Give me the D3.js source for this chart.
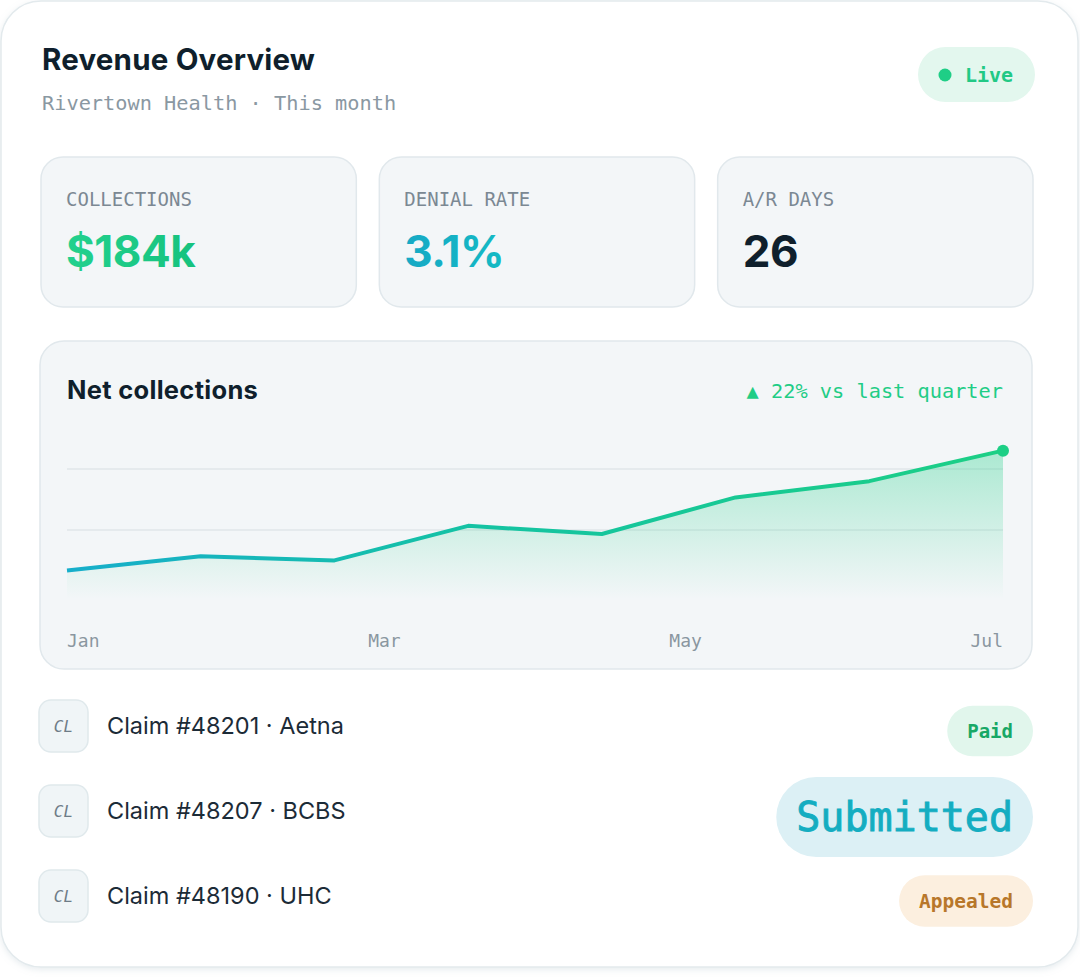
<!DOCTYPE html>
<html lang="en">
<head>
<meta charset="UTF-8">
<title>Revenue Overview</title>
<script src="https://d3js.org/d3.v7.min.js"></script>
<style>
  html, body { margin: 0; padding: 0; background: #ffffff; }
  svg { display: block; }
  .sans { font-family: Inter, "Noto Sans", sans-serif; }
  .mono { font-family: "DejaVu Sans Mono", "Liberation Mono", monospace; }
</style>
</head>
<body>
<div id="chart"></div>
<script>
// ---- data ----
const kpiLabels = ["COLLECTIONS", "DENIAL RATE", "A/R DAYS"];
const kpiValues = ["$184k", "3.1%", "26"];
const periods = [0, 1, 2, 3, 4, 5, 6, 7];
const netCollections = [100, 107, 105, 122, 118, 136, 144, 159]; // $k
const monthTicks = ["Jan", "Mar", "May", "Jul"];
const gridValues = [120, 150];
const claimIds = ["#48201", "#48207", "#48190"];
const payers = ["Aetna", "BCBS", "UHC"];
const claimStatus = ["Paid", "Submitted", "Appealed"];
const trendLabel = "\u25B2 22% vs last quarter";

// ---- styles ----
const kpiColors = ["url(#gradGreen)", "url(#gradTeal)", "#0f1f2c"];
const statusStyle = {
  Paid:      { fill: "#e1f6ec", color: "#18a866", size: 19 },
  Submitted: { fill: "#dcf0f5", color: "#14adc1", size: 40 },
  Appealed:  { fill: "#fcefdf", color: "#b8772a", size: 19.5 }
};

const width = 1080, height = 980;
const svg = d3.select("#chart").append("svg")
  .attr("width", width)
  .attr("height", height);

const defs = svg.append("defs");

const shadow = defs.append("filter").attr("id", "shadow")
  .attr("x", "-5%").attr("y", "-5%").attr("width", "110%").attr("height", "110%");
shadow.append("feDropShadow")
  .attr("dx", 0).attr("dy", 2).attr("stdDeviation", 3)
  .attr("flood-color", "#9fb3bd").attr("flood-opacity", 0.25);

function hGrad(id, stops) {
  const g = defs.append("linearGradient").attr("id", id)
    .attr("x1", "0%").attr("x2", "100%").attr("y1", "0%").attr("y2", "0%");
  stops.forEach(([o, c]) => g.append("stop").attr("offset", o).attr("stop-color", c));
}
hGrad("gradGreen", [["0%", "#22d18e"], ["100%", "#16c27e"]]);
hGrad("gradTeal", [["0%", "#17a9c5"], ["100%", "#13bac4"]]);

// outer card
svg.append("rect")
  .attr("x", 1).attr("y", 1)
  .attr("width", 1077).attr("height", 966)
  .attr("rx", 40)
  .attr("fill", "#ffffff")
  .attr("stroke", "#e3eaed")
  .attr("stroke-width", 1.5)
  .attr("filter", "url(#shadow)");

// header
svg.append("text").attr("class", "sans")
  .attr("x", 42).attr("y", 70)
  .attr("font-size", 29.5).attr("font-weight", 650)
  .attr("letter-spacing", 0.2)
  .attr("fill", "#0f1f2c")
  .text("Revenue Overview");

svg.append("text").attr("class", "mono")
  .attr("x", 42).attr("y", 110)
  .attr("font-size", 20.3)
  .attr("fill", "#8a98a2")
  .text("Rivertown Health \u00B7 This month");

// live pill
const live = svg.append("g");
live.append("rect")
  .attr("x", 918).attr("y", 47).attr("width", 117).attr("height", 55)
  .attr("rx", 27.5).attr("fill", "#e3f7ee");
live.append("circle")
  .attr("cx", 945).attr("cy", 75).attr("r", 6.5).attr("fill", "#1fce86");
live.append("text").attr("class", "mono")
  .attr("x", 965).attr("y", 75).attr("dy", "0.36em")
  .attr("font-size", 20).attr("font-weight", 600)
  .attr("fill", "#22c985")
  .text("Live");

// ---- KPI cards ----
const kpiX = d3.scaleBand().domain(kpiLabels).range([41, 1033]).paddingInner(0.068);

const kpi = svg.append("g").selectAll("g")
  .data(kpiLabels)
  .join("g")
  .attr("transform", d => `translate(${kpiX(d)},157)`);

kpi.append("rect")
  .attr("width", kpiX.bandwidth()).attr("height", 150)
  .attr("rx", 22)
  .attr("fill", "#f3f6f8")
  .attr("stroke", "#e1e8ec")
  .attr("stroke-width", 1.5);

kpi.append("text").attr("class", "mono")
  .attr("x", 25).attr("y", 49)
  .attr("font-size", 19)
  .attr("fill", "#7b8893")
  .text(d => d);

kpi.append("text").attr("class", "sans")
  .attr("x", 25).attr("y", 110)
  .attr("font-size", 44).attr("font-weight", 700)
  .attr("letter-spacing", -0.5)
  .attr("fill", (d, i) => kpiColors[i])
  .text((d, i) => kpiValues[i]);

// ---- Net collections chart ----
const chart = svg.append("g");
chart.append("rect")
  .attr("x", 40).attr("y", 341).attr("width", 992).attr("height", 328)
  .attr("rx", 24)
  .attr("fill", "#f3f6f8")
  .attr("stroke", "#e1e8ec")
  .attr("stroke-width", 1.5);

chart.append("text").attr("class", "sans")
  .attr("x", 67).attr("y", 399)
  .attr("font-size", 25.5).attr("font-weight", 700)
  .attr("letter-spacing", 0.3)
  .attr("fill", "#0f1f2c")
  .text("Net collections");

chart.append("text").attr("class", "mono")
  .attr("x", 1003).attr("y", 398)
  .attr("text-anchor", "end")
  .attr("font-size", 20.3)
  .attr("fill", "#1fcd86")
  .text(trendLabel);

const x = d3.scaleLinear().domain(d3.extent(periods)).range([67, 1003]);
const y = d3.scaleLinear().domain([86, 180]).range([599, 408]);

const lineGrad = defs.append("linearGradient").attr("id", "lineGrad")
  .attr("gradientUnits", "userSpaceOnUse")
  .attr("x1", x.range()[0]).attr("x2", x.range()[1]).attr("y1", 0).attr("y2", 0);
lineGrad.append("stop").attr("offset", "0%").attr("stop-color", "#17aecb");
lineGrad.append("stop").attr("offset", "45%").attr("stop-color", "#14c3a2");
lineGrad.append("stop").attr("offset", "100%").attr("stop-color", "#1ccf85");

const areaGrad = defs.append("linearGradient").attr("id", "areaGrad")
  .attr("gradientUnits", "userSpaceOnUse")
  .attr("x1", 0).attr("x2", 0).attr("y1", y(160)).attr("y2", y(86));
areaGrad.append("stop").attr("offset", "0%").attr("stop-color", "#1ccf85").attr("stop-opacity", 0.34);
areaGrad.append("stop").attr("offset", "100%").attr("stop-color", "#1ccf85").attr("stop-opacity", 0);

chart.append("g").selectAll("line")
  .data(gridValues)
  .join("line")
  .attr("x1", x.range()[0]).attr("x2", x.range()[1])
  .attr("y1", d => y(d)).attr("y2", d => y(d))
  .attr("stroke", "#e0e6ea")
  .attr("stroke-width", 1.5);

const area = d3.area()
  .x((d, i) => x(periods[i]))
  .y0(y(86))
  .y1(d => y(d));

const line = d3.line()
  .x((d, i) => x(periods[i]))
  .y(d => y(d));

chart.append("path")
  .datum(netCollections)
  .attr("d", area)
  .attr("fill", "url(#areaGrad)");

chart.append("path")
  .datum(netCollections)
  .attr("d", line)
  .attr("fill", "none")
  .attr("stroke", "url(#lineGrad)")
  .attr("stroke-width", 4)
  .attr("stroke-linejoin", "round");

chart.append("circle")
  .attr("cx", x(periods[periods.length - 1]))
  .attr("cy", y(netCollections[netCollections.length - 1]))
  .attr("r", 6)
  .attr("fill", "#1ccf85");

// month labels spread edge to edge
const tickFont = 18;
const tickW = 3 * 0.602 * tickFont;
const tx = d3.scaleLinear().domain([0, monthTicks.length - 1]).range([67, 1003 - tickW]);
chart.append("g").selectAll("text")
  .data(monthTicks)
  .join("text")
  .attr("class", "mono")
  .attr("x", (d, i) => tx(i))
  .attr("y", 647)
  .attr("font-size", tickFont)
  .attr("fill", "#8a96a0")
  .text(d => d);

// ---- claims list ----
const rowY = d3.scalePoint().domain(claimIds).range([726, 896]);

const rows = svg.append("g").selectAll("g")
  .data(claimIds)
  .join("g")
  .attr("transform", d => `translate(0,${rowY(d)})`);

rows.append("rect")
  .attr("x", 39).attr("y", -26).attr("width", 49).attr("height", 52)
  .attr("rx", 12)
  .attr("fill", "#f0f5f7")
  .attr("stroke", "#e0e9ec")
  .attr("stroke-width", 1.5);

rows.append("text").attr("class", "mono")
  .attr("x", 63.5).attr("y", 0).attr("dy", "0.36em")
  .attr("text-anchor", "middle")
  .attr("font-size", 16).attr("font-style", "italic")
  .attr("fill", "#6e7c87")
  .text("CL");

rows.append("text").attr("class", "sans")
  .attr("x", 107).attr("y", 0).attr("dy", "0.36em")
  .attr("font-size", 23.5)
  .attr("fill", "#1c2b37")
  .text((d, i) => `Claim ${d} \u00B7 ${payers[i]}`);

const badge = rows.append("g")
  .attr("transform", (d, i) => `translate(1033,${i === 1 ? 6 : 5})`);

badge.append("text").attr("class", "mono")
  .attr("text-anchor", "end")
  .attr("x", -20)
  .attr("dy", "0.36em")
  .attr("font-size", (d, i) => statusStyle[claimStatus[i]].size)
  .attr("font-weight", (d, i) => claimStatus[i] === "Submitted" ? 400 : 600)
  .attr("fill", (d, i) => statusStyle[claimStatus[i]].color)
  .attr("stroke", (d, i) => claimStatus[i] === "Submitted" ? statusStyle.Submitted.color : "none")
  .attr("stroke-width", 0.9)
  .text((d, i) => claimStatus[i])
  .each(function (d, i) {
    const s = statusStyle[claimStatus[i]];
    const w = this.getComputedTextLength() + 40;
    const h = s.size * 1.4 + 24;
    d3.select(this.parentNode).insert("rect", "text")
      .attr("x", -w).attr("y", -h / 2)
      .attr("width", w).attr("height", h)
      .attr("rx", h / 2)
      .attr("fill", s.fill);
  });
</script>
</body>
</html>
